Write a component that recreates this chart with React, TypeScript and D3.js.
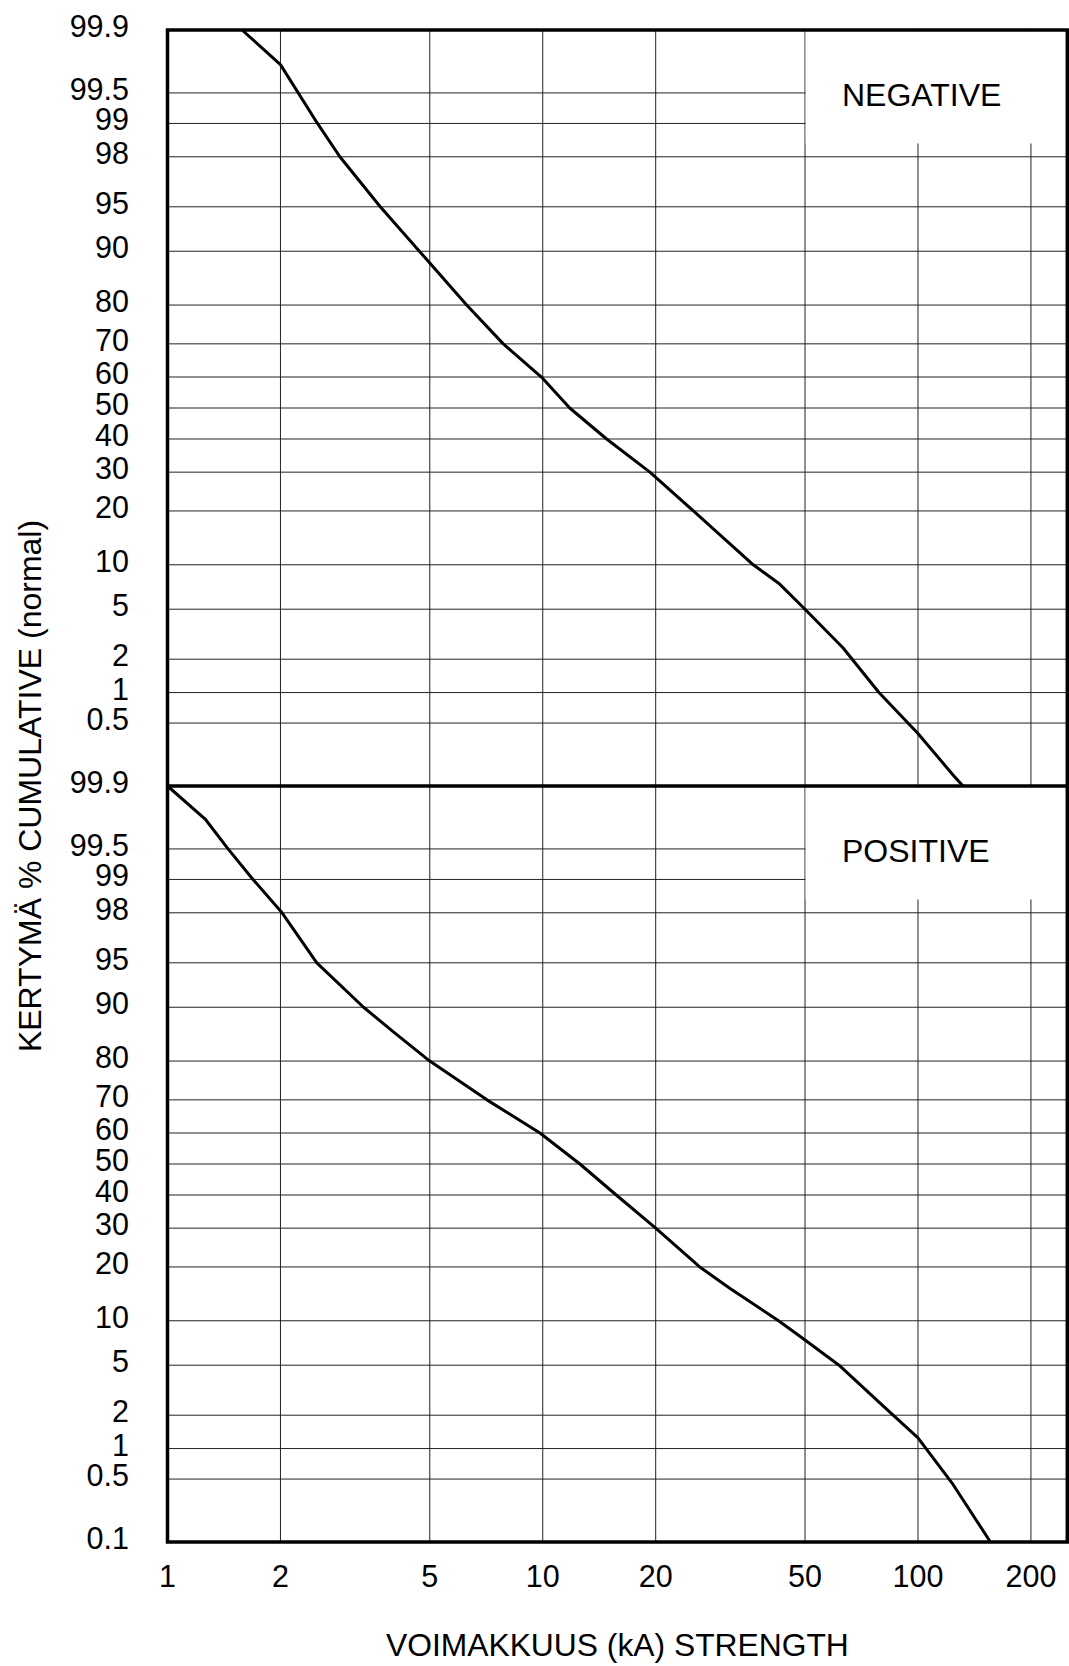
import React, { useRef, useEffect } from 'react';
import * as d3 from 'd3';

// kA values on the log axis, cumulative % on the normal probability axis
const xTicks = [1, 2, 5, 10, 20, 50, 100, 200];
const yTicks = [99.9, 99.5, 99, 98, 95, 90, 80, 70, 60, 50, 40, 30, 20, 10, 5, 2, 1, 0.5, 0.1];

const negativeKa = [1.58, 2.0, 2.51, 2.88, 3.69, 5.0, 6.27, 7.85, 9.92, 11.8, 14.8, 19.3, 25.2, 36.4, 42.8, 50, 63.1, 78.7, 100, 124, 131.8];
const negativePct = [99.9, 99.75, 99.0, 98, 95, 88.2, 80, 70, 60, 50, 40, 30, 20, 10, 7.5, 5, 2.5, 1, 0.39, 0.135, 0.1];

const positiveKa = [1.0, 1.26, 1.45, 1.69, 2.02, 2.5, 3.33, 4.0, 5.0, 7.1, 9.83, 12.56, 15.7, 20, 26.2, 31.5, 42.5, 50, 61.6, 80.7, 100, 124, 156];
const positivePct = [99.9, 99.76, 99.5, 99, 98, 95, 90, 86, 80, 70, 60, 50, 40, 30, 20, 15.5, 10, 7.5, 5, 2.4, 1.26, 0.44, 0.1];

const panelLabels = ['NEGATIVE', 'POSITIVE'];

// inverse normal cdf (Acklam), used for the probability scale
function probit(p) {
  const a = [-39.69683028665376, 220.9460984245205, -275.9285104469687, 138.357751867269, -30.66479806614716, 2.506628277459239];
  const b = [-54.47609879822406, 161.5858368580409, -155.6989798598866, 66.80131188771972, -13.28068155288572];
  const c = [-0.007784894002430293, -0.3223964580411365, -2.400758277161838, -2.549732539343734, 4.374664141464968, 2.938163982698783];
  const d = [0.007784695709041462, 0.3224671290700398, 2.445134137142996, 3.754408661907416];
  const pl = 0.02425;
  if (p < pl) {
    const q = Math.sqrt(-2 * Math.log(p));
    return (((((c[0] * q + c[1]) * q + c[2]) * q + c[3]) * q + c[4]) * q + c[5]) / ((((d[0] * q + d[1]) * q + d[2]) * q + d[3]) * q + 1);
  }
  if (p > 1 - pl) {
    const q = Math.sqrt(-2 * Math.log(1 - p));
    return -(((((c[0] * q + c[1]) * q + c[2]) * q + c[3]) * q + c[4]) * q + c[5]) / ((((d[0] * q + d[1]) * q + d[2]) * q + d[3]) * q + 1);
  }
  const q = p - 0.5;
  const r = q * q;
  return (((((a[0] * r + a[1]) * r + a[2]) * r + a[3]) * r + a[4]) * r + a[5]) * q / (((((b[0] * r + b[1]) * r + b[2]) * r + b[3]) * r + b[4]) * r + 1);
}

const W = 1069;
const H = 1666;
const left = 167.5;
const right = 1067.3;
const top = 30;
const panelH = 756;
const font = 'Liberation Sans, Arial, sans-serif';

function Chart() {
  const ref = useRef(null);

  useEffect(() => {
    const svg = d3.select(ref.current);
    svg.selectAll('*').remove();

    const x = d3.scaleLog().domain([1, 250]).range([left, right]);
    const zMax = probit(0.999);

    const panels = [
      { label: panelLabels[0], ka: negativeKa, pct: negativePct, y0: top },
      { label: panelLabels[1], ka: positiveKa, pct: positivePct, y0: top + panelH },
    ];

    panels.forEach((panel, pi) => {
      const yz = d3.scaleLinear().domain([-zMax, zMax]).range([panel.y0 + panelH, panel.y0]);
      const y = (v) => yz(probit(v / 100));
      const g = svg.append('g');

      // grid
      g.selectAll('line.v')
        .data(xTicks.slice(1))
        .enter()
        .append('line')
        .attr('x1', d => x(d))
        .attr('x2', d => x(d))
        .attr('y1', panel.y0)
        .attr('y2', panel.y0 + panelH)
        .attr('stroke', '#222')
        .attr('stroke-width', 1);

      g.selectAll('line.h')
        .data(yTicks.slice(1, -1))
        .enter()
        .append('line')
        .attr('x1', left)
        .attr('x2', right)
        .attr('y1', d => y(d))
        .attr('y2', d => y(d))
        .attr('stroke', '#222')
        .attr('stroke-width', 1);

      // label box
      g.append('rect')
        .attr('x', x(50) + 0.6)
        .attr('y', panel.y0 + 1.5)
        .attr('width', right - x(50) - 0.6)
        .attr('height', 112)
        .attr('fill', '#fff');

      g.append('text')
        .attr('x', 842)
        .attr('y', panel.y0 + 75.5)
        .attr('font-family', font)
        .attr('font-size', 32)
        .attr('fill', '#000')
        .text(panel.label);

      // curve
      const line = d3.line()
        .x(i => x(panel.ka[i]))
        .y(i => y(panel.pct[i]));
      g.append('path')
        .attr('d', line(d3.range(panel.ka.length)))
        .attr('fill', 'none')
        .attr('stroke', '#000')
        .attr('stroke-width', 3)
        .attr('stroke-linejoin', 'round');

      // tick labels
      const labels = pi === 0 ? yTicks.slice(0, -1) : yTicks;
      g.selectAll('text.yl')
        .data(labels)
        .enter()
        .append('text')
        .attr('x', 129)
        .attr('y', d => y(d) + 7)
        .attr('text-anchor', 'end')
        .attr('font-family', font)
        .attr('font-size', 30.5)
        .attr('fill', '#000')
        .text(d => String(d));
    });

    // frame
    svg.append('rect')
      .attr('x', left)
      .attr('y', top)
      .attr('width', right - left)
      .attr('height', panelH * 2)
      .attr('fill', 'none')
      .attr('stroke', '#000')
      .attr('stroke-width', 3.5);

    svg.append('line')
      .attr('x1', left)
      .attr('x2', right)
      .attr('y1', top + panelH)
      .attr('y2', top + panelH)
      .attr('stroke', '#000')
      .attr('stroke-width', 3.5);

    // x tick labels
    svg.selectAll('text.xl')
      .data(xTicks)
      .enter()
      .append('text')
      .attr('x', d => x(d))
      .attr('y', 1587)
      .attr('text-anchor', 'middle')
      .attr('font-family', font)
      .attr('font-size', 30.5)
      .attr('fill', '#000')
      .text(d => String(d));

    svg.append('text')
      .attr('x', (left + right) / 2)
      .attr('y', 1656)
      .attr('text-anchor', 'middle')
      .attr('font-family', font)
      .attr('font-size', 31.8)
      .attr('fill', '#000')
      .text('VOIMAKKUUS (kA) STRENGTH');

    svg.append('text')
      .attr('transform', `translate(41, ${top + panelH}) rotate(-90)`)
      .attr('text-anchor', 'middle')
      .attr('font-family', font)
      .attr('font-size', 32)
      .attr('fill', '#000')
      .text('KERTYMÄ % CUMULATIVE (normal)');
  }, []);

  return <svg ref={ref} width={W} height={H} style={{ position: 'absolute', left: 0, top: 0, background: '#fff' }} />;
}

export default function App() {
  return <Chart />;
}
